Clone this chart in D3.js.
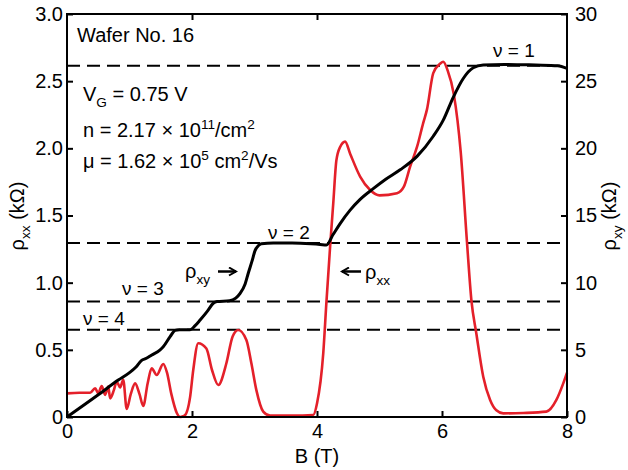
<!DOCTYPE html>
<html>
<head>
<meta charset="utf-8">
<script src="https://cdn.jsdelivr.net/npm/d3@7"></script>
<style>
  body { margin: 0; background: #fff; }
  text { font-family: "Liberation Sans", Arial, sans-serif; fill: #000; }
</style>
</head>
<body>
<svg id="chart" width="628" height="470"></svg>
<script>
// rho_xy (black), in kOhm on the right axis
const bXY = [0, 0.5, 0.82, 1.0, 1.1, 1.19, 1.27, 1.35, 1.49, 1.54, 1.65, 1.73, 1.8, 1.97, 2.05, 2.13, 2.25, 2.34, 2.4, 2.6, 2.7, 2.77, 2.85, 2.9, 2.96, 3.01, 3.06, 3.11, 3.3, 3.6, 3.9, 4.05, 4.15, 4.26, 4.37, 4.53, 4.69, 4.9, 5.1, 5.33, 5.6, 5.86, 6.02, 6.18, 6.34, 6.5, 6.66, 7.0, 7.5, 7.85, 8.0];
const rhoXY = [0, 1.65, 2.75, 3.3, 3.7, 4.2, 4.37, 4.6, 5.0, 5.23, 5.98, 6.45, 6.5, 6.5, 6.8, 7.22, 7.9, 8.47, 8.6, 8.65, 8.85, 9.2, 9.9, 10.7, 11.6, 12.4, 12.75, 12.9, 12.95, 12.95, 12.9, 12.85, 12.8, 13.6, 14.4, 15.4, 16.2, 17.0, 17.7, 18.4, 19.4, 20.9, 22.1, 23.8, 25.2, 26.0, 26.2, 26.25, 26.2, 26.15, 25.95];

// rho_xx (red), in kOhm on the left axis
const bXX = [0, 0.2, 0.37, 0.45, 0.5, 0.555, 0.61, 0.66, 0.69, 0.75, 0.795, 0.85, 0.9, 0.955, 1.02, 1.09, 1.16, 1.22, 1.29, 1.355, 1.435, 1.54, 1.6, 1.67, 1.755, 1.81, 1.88, 1.97, 2.02, 2.1, 2.23, 2.32, 2.42, 2.55, 2.65, 2.74, 2.87, 2.95, 3.03, 3.14, 3.25, 3.6, 3.94, 4.0, 4.1, 4.15, 4.21, 4.26, 4.31, 4.37, 4.45, 4.53, 4.69, 4.85, 5.0, 5.28, 5.39, 5.49, 5.6, 5.7, 5.76, 5.86, 5.97, 6.02, 6.09, 6.19, 6.3, 6.4, 6.47, 6.55, 6.66, 6.77, 6.87, 6.98, 7.3, 7.67, 7.83, 7.94, 8.0];
const rhoXX = [0.176, 0.18, 0.18, 0.214, 0.176, 0.23, 0.164, 0.226, 0.139, 0.2, 0.263, 0.22, 0.276, 0.06, 0.17, 0.25, 0.17, 0.082, 0.25, 0.362, 0.313, 0.395, 0.33, 0.17, 0.032, 0.0, 0.01, 0.15, 0.35, 0.549, 0.51, 0.35, 0.238, 0.4, 0.6, 0.648, 0.573, 0.4, 0.2, 0.04, 0.01, 0.01, 0.015, 0.1, 0.474, 0.85, 1.27, 1.59, 1.91, 2.01, 2.05, 1.96, 1.79, 1.69, 1.65, 1.666, 1.715, 1.864, 2.01, 2.19, 2.29, 2.56, 2.63, 2.645, 2.58, 2.4, 1.97, 1.3, 0.87, 0.62, 0.30, 0.127, 0.05, 0.027, 0.03, 0.04, 0.127, 0.25, 0.33];

// quantized plateaus (kOhm, right axis) and their labels
const plateauValues = [26.15, 12.95, 8.6, 6.5];
const plateauLabels = ["ν = 1", "ν = 2", "ν = 3", "ν = 4"];

const xTicks = [0, 2, 4, 6, 8];
const leftTicks = [0, 0.5, 1.0, 1.5, 2.0, 2.5, 3.0];
const rightTicks = [0, 5, 10, 15, 20, 25, 30];

const margin = { left: 67, right: 61, top: 14, bottom: 53 };
const W = 628, H = 470;
const svg = d3.select("#chart");

const x = d3.scaleLinear().domain([0, 8]).range([margin.left, W - margin.right]);
const yL = d3.scaleLinear().domain([0, 3]).range([H - margin.bottom, margin.top]);
const yR = d3.scaleLinear().domain([0, 30]).range([H - margin.bottom, margin.top]);

// dashed plateau lines
svg.append("g")
  .selectAll("line")
  .data(plateauValues)
  .join("line")
    .attr("x1", x(0)).attr("x2", x(8))
    .attr("y1", d => yR(d)).attr("y2", d => yR(d))
    .attr("stroke", "#000")
    .attr("stroke-width", 2)
    .attr("stroke-dasharray", "13,7");

// curves
const lineXX = d3.line().x((d, i) => x(bXX[i])).y(d => yL(d)).curve(d3.curveMonotoneX);
const lineXY = d3.line().x((d, i) => x(bXY[i])).y(d => yR(d)).curve(d3.curveMonotoneX);

svg.append("path")
  .attr("d", lineXX(rhoXX))
  .attr("fill", "none")
  .attr("stroke", "#e4202a")
  .attr("stroke-width", 2.6)
  .attr("stroke-linejoin", "round");

svg.append("path")
  .attr("d", lineXY(rhoXY))
  .attr("fill", "none")
  .attr("stroke", "#000")
  .attr("stroke-width", 3)
  .attr("stroke-linejoin", "round");

// axes with inward ticks
function styleAxis(g) {
  g.select(".domain").remove();
  g.selectAll(".tick line").attr("stroke-width", 2);
  g.selectAll(".tick text").style("font-size", "20px").style("font-family", "Liberation Sans, Arial, sans-serif");
}

svg.append("g")
  .attr("transform", `translate(0,${H - margin.bottom})`)
  .call(d3.axisBottom(x).tickValues(xTicks).tickSizeInner(-6).tickSizeOuter(0).tickPadding(7).tickFormat(d3.format("d")))
  .call(styleAxis);

svg.append("g")
  .attr("transform", `translate(0,${margin.top})`)
  .call(d3.axisTop(x).tickValues([2, 4, 6]).tickSizeInner(-6).tickSizeOuter(0).tickFormat(""))
  .call(styleAxis);

svg.append("g")
  .attr("transform", `translate(${margin.left},0)`)
  .call(d3.axisLeft(yL).tickValues(leftTicks).tickSizeInner(-6).tickSizeOuter(0).tickPadding(4)
    .tickFormat(d => d === 0 ? "0" : d3.format(".1f")(d)))
  .call(styleAxis);

svg.append("g")
  .attr("transform", `translate(${W - margin.right},0)`)
  .call(d3.axisRight(yR).tickValues(rightTicks).tickSizeInner(-6).tickSizeOuter(0).tickPadding(8).tickFormat(d3.format("d")))
  .call(styleAxis);

// frame
svg.append("rect")
  .attr("x", x(0)).attr("y", yL(3))
  .attr("width", x(8) - x(0)).attr("height", yL(0) - yL(3))
  .attr("fill", "none")
  .attr("stroke", "#000")
  .attr("stroke-width", 2);

// text with sub/superscripts: parts = [[text, kind], ...]
function richText(px, py, parts, size, anchor) {
  const t = svg.append("text")
    .attr("x", px).attr("y", py)
    .style("font-size", size + "px")
    .attr("text-anchor", anchor || "start");
  let shift = 0;
  parts.forEach(([s, kind]) => {
    let target = 0, fs = size;
    if (kind === "sub") { target = 0.3 * size; fs = 0.68 * size; }
    if (kind === "sup") { target = -0.4 * size; fs = 0.68 * size; }
    t.append("tspan")
      .attr("dy", target - shift)
      .style("font-size", fs + "px")
      .text(s);
    shift = target;
  });
  return t;
}

// axis titles
svg.append("text")
  .attr("x", (x(0) + x(8)) / 2).attr("y", 463)
  .attr("text-anchor", "middle")
  .style("font-size", "20px")
  .text("B (T)");

richText(0, 0, [["ρ", ""], ["xx", "sub"], [" (kΩ)", ""]], 20, "middle")
  .attr("transform", "translate(24,216) rotate(-90)");
richText(0, 0, [["ρ", ""], ["xy", "sub"], [" (kΩ)", ""]], 20, "middle")
  .attr("transform", "translate(616,216) rotate(-90)");

// sample info
svg.append("text").attr("x", 77).attr("y", 42).style("font-size", "20px").text("Wafer No. 16");
richText(83, 101, [["V", ""], ["G", "sub"], [" = 0.75 V", ""]], 20);
richText(83, 137, [["n = 2.17 × 10", ""], ["11", "sup"], ["/cm", ""], ["2", "sup"]], 20);
richText(83, 168, [["μ = 1.62 × 10", ""], ["5", "sup"], [" cm", ""], ["2", "sup"], ["/Vs", ""]], 20);

// plateau labels
const nuPos = [[493, 57], [268, 239], [122, 295], [83, 325]];
plateauLabels.forEach((s, i) => {
  svg.append("text")
    .attr("x", nuPos[i][0]).attr("y", nuPos[i][1])
    .style("font-size", "19px")
    .text(s);
});

// curve labels with arrows
svg.append("defs").append("marker")
  .attr("id", "arrow")
  .attr("viewBox", "0 0 10 10")
  .attr("refX", 8).attr("refY", 5)
  .attr("markerWidth", 4).attr("markerHeight", 4)
  .attr("orient", "auto")
  .append("path")
    .attr("d", "M1,1 L8,5 L1,9")
    .attr("fill", "none")
    .attr("stroke", "#000")
    .attr("stroke-width", 2);

richText(185, 278, [["ρ", ""], ["xy", "sub"]], 20);
svg.append("line")
  .attr("x1", 218).attr("y1", 271.5).attr("x2", 236).attr("y2", 271.5)
  .attr("stroke", "#000").attr("stroke-width", 2.5)
  .attr("marker-end", "url(#arrow)");

richText(365, 279, [["ρ", ""], ["xx", "sub"]], 20);
svg.append("line")
  .attr("x1", 361).attr("y1", 271.5).attr("x2", 342).attr("y2", 271.5)
  .attr("stroke", "#000").attr("stroke-width", 2.5)
  .attr("marker-end", "url(#arrow)");
</script>
</body>
</html>
